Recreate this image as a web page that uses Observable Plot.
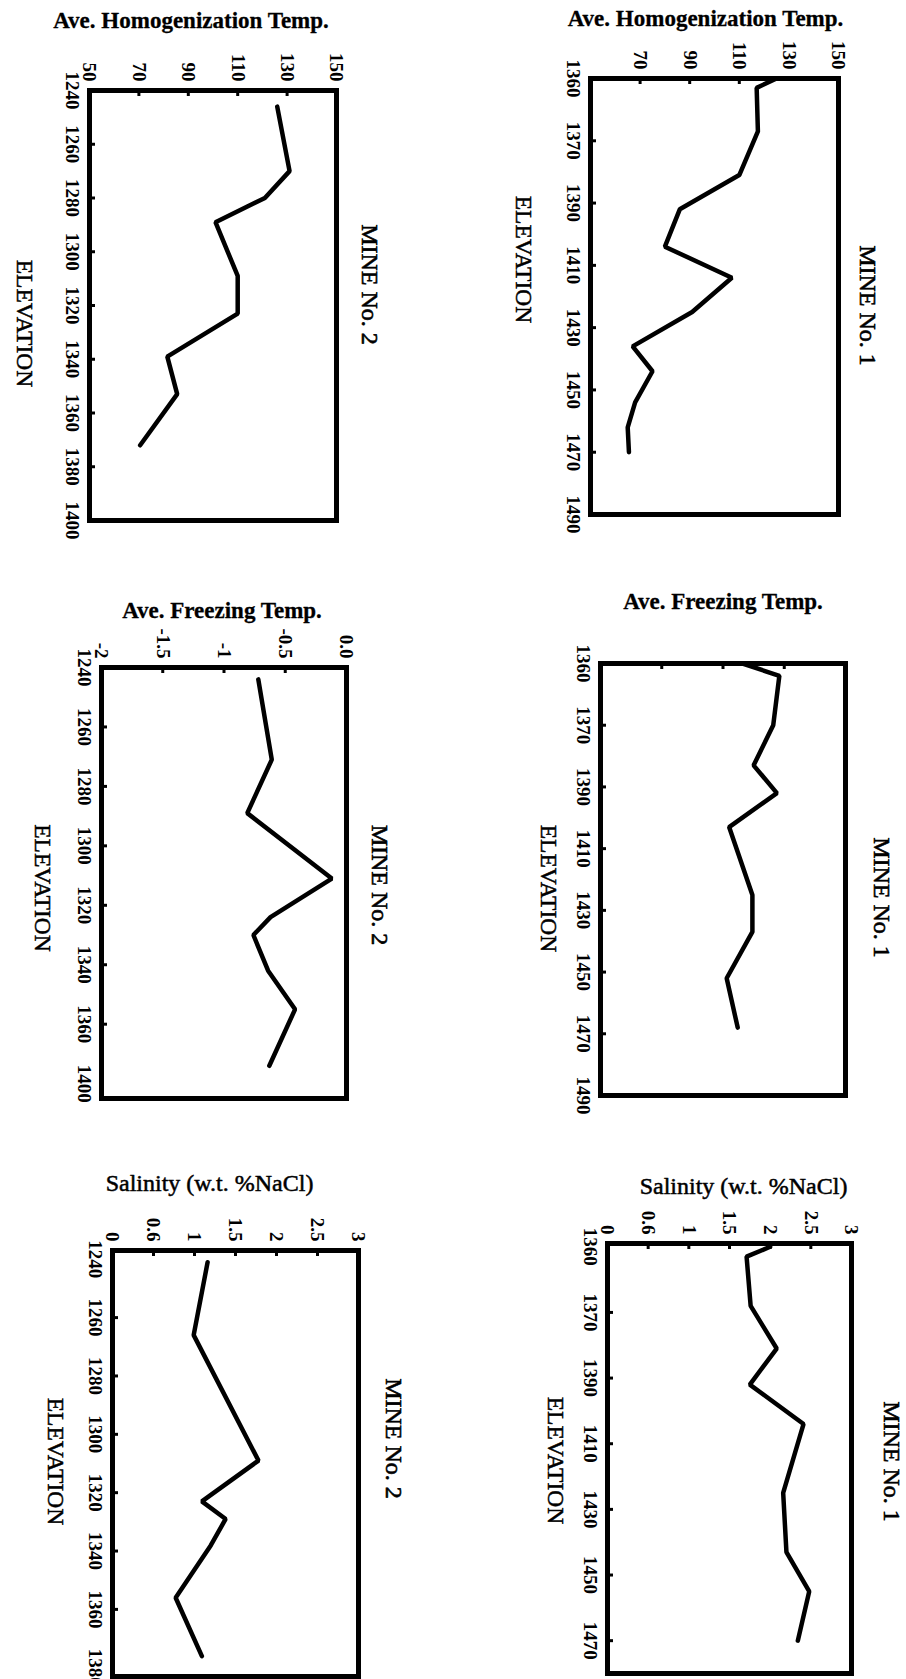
<!DOCTYPE html>
<html><head><meta charset="utf-8">
<script src="https://cdn.jsdelivr.net/npm/d3@7"></script>
<script src="https://cdn.jsdelivr.net/npm/@observablehq/plot@0.6"></script>
<style>
html,body{margin:0;padding:0;background:#fff;}
#page{position:relative;width:906px;height:1679px;overflow:hidden;background:#fff;}
#page svg{position:absolute;overflow:visible;}
</style></head><body><div id="page"></div>
<script>
// ---- data ----
// Mine No. 2, average homogenization temperature
const elevMine2Homog = [1246, 1270, 1280, 1289, 1309, 1323, 1339, 1353, 1372];
const homogMine2 = [126, 131, 121, 101, 110, 110, 81.5, 85.5, 70.5];
// Mine No. 1, average homogenization temperature
const elevMine1Homog = [1350, 1353, 1367, 1381, 1392, 1404, 1414, 1425, 1436, 1444, 1454, 1462, 1470];
const homogMine1 = [125, 117, 117.5, 110, 86, 80, 107, 91, 67, 75, 68, 65, 65.5];
// Mine No. 2, average freezing temperature
const elevMine2Freeze = [1244, 1271, 1289, 1311, 1324, 1330, 1342, 1355, 1374];
const freezeMine2 = [-0.72, -0.61, -0.81, -0.12, -0.62, -0.76, -0.64, -0.42, -0.63];
// Mine No. 1, average freezing temperature
const elevMine1Freeze = [1350, 1354, 1370, 1383, 1392, 1403, 1425, 1437, 1452, 1468];
const freezeMine1 = [-0.84, -0.54, -0.59, -0.75, -0.56, -0.95, -0.76, -0.76, -0.97, -0.88];
// Mine No. 2, salinity
const elevMine2Sal = [1241, 1266, 1309, 1323, 1329, 1338, 1356, 1376];
const salMine2 = [1.16, 0.99, 1.78, 1.09, 1.38, 1.20, 0.77, 1.09];
// Mine No. 1, salinity
const elevMine1Sal = [1350, 1353, 1368, 1381, 1392, 1404, 1425, 1443, 1455, 1470];
const salMine1 = [2.0, 1.71, 1.76, 2.08, 1.75, 2.41, 2.16, 2.2, 2.48, 2.34];

// ---- tick values and labels ----
const homogTicks = [50, 70, 90, 110, 130, 150];
const homogLabels = ["50", "70", "90", "110", "130", "150"];
const freezeTicks = [-2, -1.5, -1, -0.5, 0];
const freezeLabels = ["-2", "-1.5", "-1", "-0.5", "0.0"];
const salTicks = [0, 0.5, 1, 1.5, 2, 2.5, 3];
const salLabels = ["0", "0.6", "1", "1.5", "2", "2.5", "3"];
const elevTicksMine2 = [1240, 1260, 1280, 1300, 1320, 1340, 1360, 1380, 1400];
const elevLabelsMine2 = ["1240", "1260", "1280", "1300", "1320", "1340", "1360", "1380", "1400"];
const elevTicksMine2F = [1240, 1260, 1280, 1300, 1320, 1340, 1360, 1380];
const elevLabelsMine2F = ["1240", "1260", "1280", "1300", "1320", "1340", "1360", "1400"];
const elevTicksMine1 = [1350, 1370, 1390, 1410, 1430, 1450, 1470, 1490];
const elevLabelsMine1 = ["1360", "1370", "1390", "1410", "1430", "1450", "1470", "1490"];

const titles = {
  homog: "Ave. Homogenization Temp.",
  freeze: "Ave. Freezing Temp.",
  sal: "Salinity (w.t. %NaCl)"
};

const serif = "'Liberation Serif', 'Times New Roman', serif";

const panels = [
  { // Mine 2 homog
    box: [0, 0, 453, 560], frame: [89, 336, 90, 520],
    elev: elevMine2Homog, vals: homogMine2,
    xDomain: [50, 150], xTicks: homogTicks, xLabels: homogLabels, xMarks: [70, 90, 110, 130],
    yDomain: [1240, 1400], yTicks: elevTicksMine2, yLabels: elevLabelsMine2, yMarks: [1260, 1280, 1300, 1320, 1340, 1360, 1380],
    title: titles.homog, titleBold: true, titleSize: 23, titleOff: [-22, -63],
    elevOff: [-56, 18], mine: "MINE No. 2", mineOff: [43, -21]
  },
  { // Mine 1 homog
    box: [453, 0, 453, 560], frame: [590, 838, 78, 514],
    elev: elevMine1Homog, vals: homogMine1,
    xDomain: [50, 150], xTicks: homogTicks.slice(1), xLabels: homogLabels.slice(1), xMarks: [70, 90, 110],
    yDomain: [1350, 1490], yTicks: elevTicksMine1, yLabels: elevLabelsMine1, yMarks: [1370, 1390, 1410, 1430, 1450, 1470],
    title: titles.homog, titleBold: true, titleSize: 23, titleOff: [-9, -53],
    elevOff: [-58, -37], mine: "MINE No. 1", mineOff: [39, 9]
  },
  { // Mine 2 freezing
    box: [0, 560, 453, 560], frame: [101, 346, 667, 1098],
    elev: elevMine2Freeze, vals: freezeMine2,
    xDomain: [-2, 0], xTicks: freezeTicks, xLabels: freezeLabels, xMarks: [-1.5, -1, -0.5],
    yDomain: [1240, 1385], yTicks: elevTicksMine2F, yLabels: elevLabelsMine2F, yMarks: [1260, 1280, 1300, 1320, 1340, 1360],
    title: titles.freeze, titleBold: true, titleSize: 23, titleOff: [-2, -50],
    elevOff: [-50, 5], mine: "MINE No. 2", mineOff: [43, 2]
  },
  { // Mine 1 freezing
    box: [453, 560, 453, 560], frame: [600, 845, 663, 1095],
    elev: elevMine1Freeze, vals: freezeMine1,
    xDomain: [-2, 0], xTicks: [], xLabels: [], xMarks: [-1.5, -1, -0.5],
    yDomain: [1350, 1490], yTicks: elevTicksMine1, yLabels: elevLabelsMine1, yMarks: [1370, 1390, 1410, 1430, 1450, 1470],
    title: titles.freeze, titleBold: true, titleSize: 23, titleOff: [0, -55],
    elevOff: [-43, 9], mine: "MINE No. 1", mineOff: [46, 18]
  },
  { // Mine 2 salinity
    box: [0, 1120, 453, 559], frame: [112, 358, 1250, 1676],
    elev: elevMine2Sal, vals: salMine2,
    xDomain: [0, 3], xTicks: salTicks, xLabels: salLabels, xMarks: [0.5, 1, 1.5, 2, 2.5],
    yDomain: [1237, 1383], yTicks: elevTicksMine2.slice(0, 8), yLabels: elevLabelsMine2.slice(0, 8), yMarks: [1260, 1280, 1300, 1320, 1340, 1360],
    title: titles.sal, titleBold: false, titleSize: 24, titleOff: [-26, -60],
    elevOff: [-48, -2], mine: "MINE No. 2", mineOff: [45, -25]
  },
  { // Mine 1 salinity
    box: [453, 1120, 453, 559], frame: [607, 851, 1243, 1673],
    elev: elevMine1Sal, vals: salMine1,
    xDomain: [0, 3], xTicks: salTicks, xLabels: salLabels, xMarks: [0.5, 1, 1.5, 2, 2.5],
    yDomain: [1349, 1480], yTicks: elevTicksMine1.slice(0, 7), yLabels: elevLabelsMine1.slice(0, 7), yMarks: [1370, 1390, 1410, 1430, 1450, 1470],
    title: titles.sal, titleBold: false, titleSize: 24, titleOff: [14, -50],
    elevOff: [-43, 2], mine: "MINE No. 1", mineOff: [50, 3]
  }
];

const page = document.getElementById("page");

for (const p of panels) {
  const [bx, by, bw, bh] = p.box;
  const [fx0, fx1, fy0, fy1] = p.frame;
  const innerW = fx1 - fx0, innerH = fy1 - fy0;
  const data = p.elev.map((e, i) => ({e, v: p.vals[i]}));
  const xLab = new Map(p.xTicks.map((t, i) => [t, p.xLabels[i]]));
  const yLab = new Map(p.yTicks.map((t, i) => [t, p.yLabels[i]]));
  const marks = [];
  if (p.xTicks.length) {
    marks.push(Plot.axisX(p.xTicks, {
      anchor: "top", tickSize: 0, tickPadding: 9, tickRotate: 90,
      textAnchor: "end", lineAnchor: "middle",
      tickFormat: d => xLab.get(d), fontSize: 19, fontWeight: "bold", label: null
    }));
  }
  marks.push(
    Plot.axisY(p.yTicks, {
      anchor: "left", tickSize: 0, tickPadding: 10, tickRotate: 90,
      textAnchor: "middle", lineAnchor: "top",
      tickFormat: d => yLab.get(d), fontSize: 19, fontWeight: "bold", label: null
    }),
    Plot.tickX(p.xMarks, {x: d => d, insetBottom: innerH - 6, strokeWidth: 3, stroke: "#000"}),
    Plot.tickY(p.yMarks, {y: d => d, insetRight: innerW - 6, strokeWidth: 3, stroke: "#000"}),
    Plot.frame({stroke: "#000", strokeWidth: 5}),
    Plot.line(data, {x: "v", y: "e", stroke: "#000", strokeWidth: 4.5, strokeLinejoin: "miter", strokeLinecap: "round"}),
    Plot.text([p.title], {
      text: d => d, frameAnchor: "top", lineAnchor: "bottom", textAnchor: "middle",
      dx: p.titleOff[0], dy: p.titleOff[1], fontSize: p.titleSize,
      fontWeight: p.titleBold ? "bold" : "normal",
      fill: "#000", stroke: "#000", strokeWidth: p.titleBold ? 0.3 : 0.5
    }),
    Plot.text(["ELEVATION"], {
      text: d => d, frameAnchor: "left", rotate: 90, lineAnchor: "top", textAnchor: "middle",
      dx: p.elevOff[0], dy: p.elevOff[1], fontSize: 23.5, fill: "#000", stroke: "#000", strokeWidth: 0.5
    }),
    Plot.text([p.mine], {
      text: d => d, frameAnchor: "right", rotate: 90, lineAnchor: "top", textAnchor: "middle",
      dx: p.mineOff[0], dy: p.mineOff[1], fontSize: 24, fill: "#000", stroke: "#000", strokeWidth: 0.6
    })
  );
  const chart = Plot.plot({
    width: bw, height: bh,
    marginLeft: fx0 - bx, marginRight: bx + bw - fx1,
    marginTop: fy0 - by, marginBottom: by + bh - fy1,
    x: p.xTicks.length ? {domain: p.xDomain} : {domain: p.xDomain, axis: null},
    y: {domain: p.yDomain, reverse: true},
    style: {fontFamily: serif, color: "#000", background: "transparent", overflow: "visible"},
    marks
  });
  chart.style.left = bx + "px";
  chart.style.top = by + "px";
  page.appendChild(chart);
}
</script>
</body></html>
